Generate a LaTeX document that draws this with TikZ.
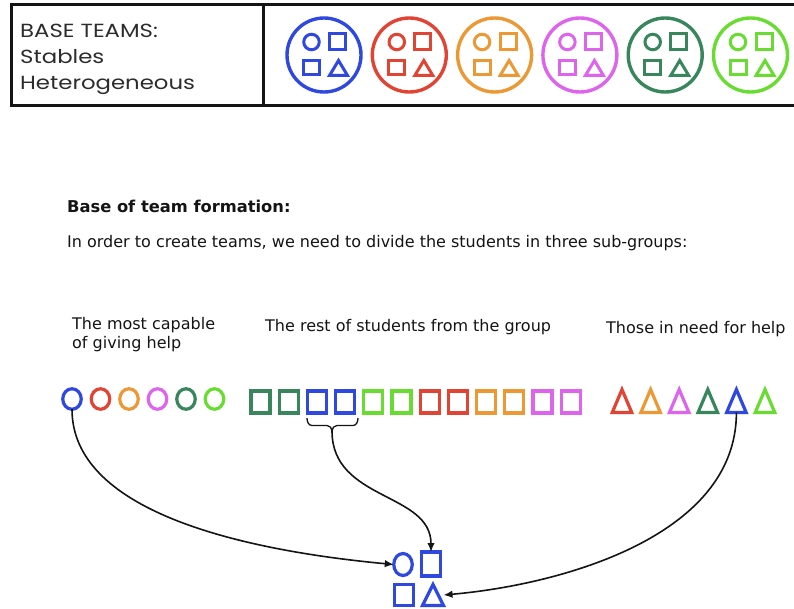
\documentclass[tikz,border=0pt]{standalone}
\usepackage{fontspec}
\setmainfont{DejaVu Sans}
\newfontfamily\titlefont[FakeStretch=1.2]{Poppins}
\usetikzlibrary{shapes.geometric,arrows.meta}
\definecolor{cblue}{RGB}{46,72,224}
\definecolor{cred}{RGB}{226,68,52}
\definecolor{corange}{RGB}{236,152,52}
\definecolor{cmagenta}{RGB}{222,100,238}
\definecolor{cdkgreen}{RGB}{56,134,92}
\definecolor{cltgreen}{RGB}{104,220,48}
\definecolor{ink}{RGB}{20,20,20}
\tikzset{
  shp/.style={draw, line width=3.2pt, inner sep=0, outer sep=0},
  circ/.style={shp, ellipse, minimum width=18.5pt, minimum height=20.5pt},
  sq/.style={shp, rectangle, minimum width=19pt, minimum height=22pt},
  tribox/.style={inner sep=0, outer sep=0, minimum width=19.5pt, minimum height=23pt},
  trishape/.style={line width=3.2pt},
  arr/.style={draw=ink, line width=1.6pt, -{Latex[length=9pt,width=7.5pt]}},
  txt/.style={anchor=base west, inner sep=0, text=ink, font=\fontsize{16}{19}\selectfont},
  ttl/.style={anchor=base west, inner sep=0, text=ink!90, font=\titlefont\fontsize{19}{22}\selectfont},
  teamring/.style={draw, circle, line width=3.4pt, minimum size=74pt, inner sep=0},
  smallshp/.style={draw, line width=3pt, inner sep=0, outer sep=0},
}
\begin{document}
\begin{tikzpicture}[x=1pt,y=-1pt]
\useasboundingbox (0,0) rectangle (794,609);
\fill[white] (0,0) rectangle (794,609);

% ---- table ----
\draw[line width=3pt, ink] (800,5) -- (11,5) -- (11,106) -- (800,106);
\draw[line width=3pt, ink] (263,5) -- (263,106);
\node[ttl] (ttl1) at (20,38) {BASE TEAMS:};
\node[ttl] (ttl2) at (20,64) {Stables};
\node[ttl] (ttl3) at (20,90) {Heterogeneous};

\foreach \i/\col in {1/cblue,2/cred,3/corange,4/cmagenta,5/cdkgreen,6/cltgreen}{
  \pgfmathsetmacro\xx{324+85.3*(\i-1)}
  \node[teamring, draw=\col] (team\i) at (\xx,55) {};
  \node[smallshp, circle, draw=\col, minimum size=15.5pt] (team\i c) at ([shift={(-12.5,-13)}]team\i.center) {};
  \node[smallshp, rectangle, draw=\col, minimum width=16pt, minimum height=16pt] (team\i s) at ([shift={(13.5,-13)}]team\i.center) {};
  \node[smallshp, rectangle, draw=\col, minimum width=16pt, minimum height=14pt] (team\i q) at ([shift={(-12.5,13)}]team\i.center) {};
  \node[inner sep=0, outer sep=0, minimum width=18pt, minimum height=15pt] (team\i t) at ([shift={(14.5,13)}]team\i.center) {};
  \draw[line width=3pt, \col] (team\i t.south west) -- (team\i t.north) -- (team\i t.south east) -- cycle;
}

% ---- texts ----
\node[txt, font=\bfseries\fontsize{16.3}{19}\selectfont] (head) at (67,213) {Base of team formation:};
\node[txt] (intro) at (67,248) {In order to create teams, we need to divide the students in three sub-groups:};
\node[txt] (lab1a) at (72,329) {The most capable};
\node[txt] (lab1b) at (72,348) {of giving help};
\node[txt] (lab2) at (265,331) {The rest of students from the group};
\node[txt] (lab3) at (606,333) {Those in need for help};

% ---- circles ----
\foreach \i/\col in {1/cblue,2/cred,3/corange,4/cmagenta,5/cdkgreen,6/cltgreen}{
  \pgfmathsetmacro\xx{72+28.5*(\i-1)}
  \node[circ, draw=\col] (c\i) at (\xx,399) {};
}
% ---- squares ----
\foreach \i/\col in {1/cdkgreen,2/cdkgreen,3/cblue,4/cblue,5/cltgreen,6/cltgreen,7/cred,8/cred,9/corange,10/corange,11/cmagenta,12/cmagenta}{
  \pgfmathsetmacro\xx{260.5+28.2*(\i-1)}
  \node[sq, draw=\col] (s\i) at (\xx,402) {};
}
% ---- triangles ----
\foreach \i/\col in {1/cred,2/corange,3/cmagenta,4/cdkgreen,5/cblue,6/cltgreen}{
  \pgfmathsetmacro\xx{622+28.6*(\i-1)}
  \node[tribox] (t\i) at (\xx,401) {};
  \draw[trishape, \col] (t\i.south west) -- (t\i.north) -- (t\i.south east) -- cycle;
}

% ---- resulting team ----
\node[circ, draw=cblue, minimum width=18.5pt, minimum height=22pt] (fc) at (403,564.5) {};
\node[sq, draw=cblue, minimum height=24pt] (fs1) at (431,564) {};
\node[sq, draw=cblue, minimum height=21pt] (fs2) at (404,595) {};
\node[tribox, minimum width=21pt, minimum height=21pt] (ft) at (433,595) {};
\draw[trishape, cblue] (ft.south west) -- (ft.north) -- (ft.south east) -- cycle;

% ---- brace ----
\coordinate (bt) at (332,431);
\draw[ink, line width=1.3pt] (307,418) to[out=-90,in=180] (312,425.5) -- (327,425.5) to[out=0,in=90] (bt)
  to[out=90,in=180] (337,425.5) -- (353,425.5) to[out=0,in=-90] (358,418);

% ---- connectors ----
\draw[arr] (c1.south) .. controls +(0,100) and +(-160,-15) .. (fc.west);
\draw[arr] (bt) .. controls +(0,70) and +(0,-60) .. (fs1.north);
\draw[arr] (t5.south) .. controls +(0,125) and +(115,-10) .. (ft.east);
\end{tikzpicture}
\end{document}
